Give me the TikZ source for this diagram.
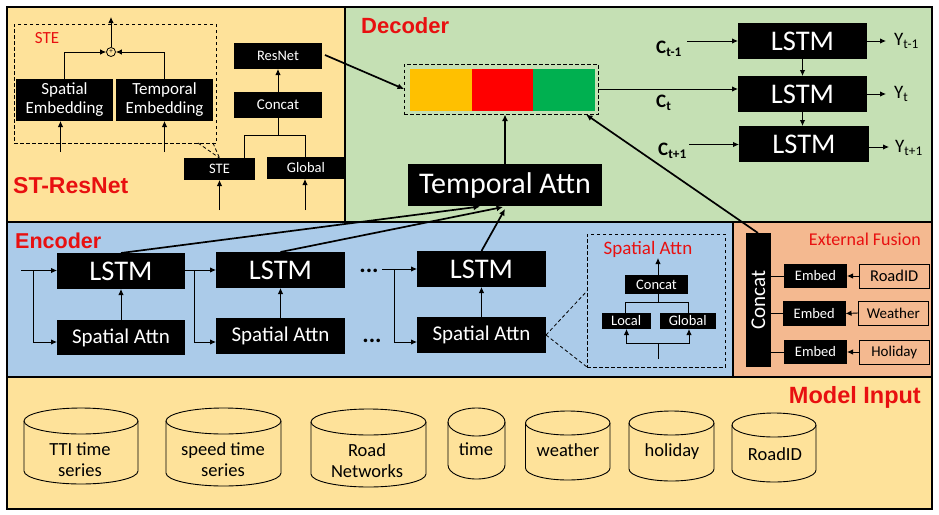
\documentclass[tikz,border=0pt]{standalone}
\usepackage{fontspec}
\setmainfont{Carlito}
\newfontfamily\titlefont{Liberation Sans}
\usetikzlibrary{arrows.meta,calc}
\definecolor{panelY}{HTML}{FEE29A}
\definecolor{panelG}{HTML}{C5E0B4}
\definecolor{panelB}{HTML}{ABCBE9}
\definecolor{panelO}{HTML}{F4B990}
\definecolor{titleR}{HTML}{E81010}
\definecolor{mixA}{HTML}{FFC000}
\definecolor{mixC}{HTML}{00B050}
\newcommand\fs[1]{\fontsize{#1}{21}\selectfont}
\newcommand\mybox[7]{\node[#6,minimum width={(#4-#2)*1pt},minimum height={(#5-#3)*1pt}] (#1) at ({(#2+#4)/2},{(#3+#5)/2}) {#7};}
\newcommand\mycyl[8]{%
  \draw[cylline] (#2,#3+#6) arc[start angle=180,end angle=-180,x radius={(#4-#2)/2},y radius=#6];
  \draw[cylline] (#2,#3+#6) -- (#2,#5-#6) arc[start angle=180,end angle=0,x radius={(#4-#2)/2},y radius=#6] -- (#4,#3+#6);
  \node[cyltext] (#1) at (#7) {#8};}
\tikzset{
  x=1pt,y=-1pt,
  panel/.style={draw=black,line width=1.2pt},
  blk/.style={fill=black,text=white,inner sep=0pt,outer sep=0pt,align=center},
  big/.style={blk,font=\fs{28.5}},
  mid/.style={blk,font=\fs{21}},
  sm/.style={blk,font=\fs{14.5}},
  tiny/.style={blk,font=\fs{14.5}},
  ext/.style={draw=black,line width=.7pt,fill=panelO,inner sep=0pt,outer sep=0pt,font=\fs{15}},
  arr/.style={-{Latex[length=6pt,width=5.5pt]},line width=.9pt},
  thk/.style={-{Latex[length=6.5pt,width=6pt]},line width=1.7pt},
  lin/.style={line width=.9pt},
  dsh/.style={dash pattern=on 3.5pt off 2.5pt,line width=.8pt},
  ttl/.style={text=titleR,inner sep=0pt},
  lab/.style={font=\fs{17},text=titleR,inner sep=0pt},
  cylline/.style={line width=.9pt},
  cyltext/.style={font=\fs{18.5},align=center,inner sep=0pt},
  clab/.style={font=\fs{19},inner sep=0pt,anchor=west},
}
\begin{document}
\begin{tikzpicture}
\useasboundingbox (0,0) rectangle (939,514);
% panels
\fill[white] (0,0) rectangle (939,514);
\draw[panel,fill=panelY] (7,7) rectangle (345,222);
\draw[panel,fill=panelG] (345,7) rectangle (932,222);
\draw[panel,fill=panelB] (7,222) rectangle (733,377);
\draw[panel,fill=panelO] (733,222) rectangle (932,377);
\draw[panel,fill=panelY] (7,377) rectangle (932,509);
\node[ttl,anchor=west,font=\titlefont\bfseries\fs{23}] (tResNet) at (13,186) {ST-ResNet};
\node[ttl,anchor=west,font=\titlefont\bfseries\fs{22}] (tDec) at (361,26) {Decoder};
\node[ttl,anchor=west,font=\titlefont\bfseries\fs{21.5}] (tEnc) at (15,241) {Encoder};
\node[ttl,anchor=east,font=\titlefont\bfseries\fs{23.5}] (tInp) at (921,397) {Model Input};
% ST-ResNet
\mybox{ste}{14}{24}{216}{143}{draw=black,dsh,inner sep=0pt,outer sep=0pt}{}
\node[lab] (lSte) at (47,38) {STE};
\mybox{spe}{16}{79}{113}{121}{blk,font=\fontsize{17}{19}\selectfont}{Spatial\\Embedding}
\mybox{tpe}{116}{79}{213}{121}{blk,font=\fontsize{17}{19}\selectfont}{Temporal\\Embedding}
\node[circle,draw=black,line width=.8pt,fill=panelY,minimum size=9pt,inner sep=0pt,font=\fontsize{7}{7}\selectfont] (plus) at (111,52) {+};
\coordinate (stOut) at (111,17);
\coordinate (speIn) at (60.5,152);
\coordinate (tpeIn) at (164.5,152);
\draw[arr] (plus) -- (stOut);
\draw[arr] (spe.north) |- (plus.west);
\draw[arr] (tpe.north) |- (plus.east);
\draw[arr] (speIn) -- (speIn |- spe.south);
\draw[arr] (tpeIn) -- (tpeIn |- tpe.south);
\mybox{resnet}{234}{43}{322}{69}{sm}{ResNet}
\mybox{concatA}{234}{92}{322}{118}{blk,font=\fs{15}}{Concat}
\mybox{steB}{184}{158}{255}{180}{tiny}{STE}
\mybox{globA}{267}{157}{345}{179}{tiny}{Global}
\coordinate (cjA) at (244,135);
\coordinate (cjB) at (305,135);
\coordinate (steIn) at (219.5,210);
\coordinate (glIn) at (305,210);
\coordinate (dsA) at (198,143);
\coordinate (dsB) at (213,143);
\draw[arr] (concatA.north) -- (resnet.south);
\draw[lin] (concatA.south) -- (concatA.south |- cjA);
\draw[lin] (cjA |- steB.north) -- (cjA) -- (cjB) -- (cjB |- globA.north);
\draw[arr] (steIn) -- (steIn |- steB.south);
\draw[arr] (glIn) -- (glIn |- globA.south);
\draw[dsh] (dsA) -- (steB.north);
\draw[dsh] (dsB) -- (steB.north);
% Decoder
\mybox{mix}{404}{64}{598}{114.5}{draw=black,dsh,inner sep=0pt,outer sep=0pt}{}
\fill[mixA] (410,69) rectangle (472,111);
\fill[red] (472,69) rectangle (533,111);
\fill[mixC] (533,69) rectangle (595,111);
\mybox{tattn}{408}{164}{602}{206}{blk,font=\fs{30}}{Temporal Attn}
\mybox{dA}{738}{23}{867}{59}{big}{LSTM}
\mybox{dB}{738}{76}{867}{112}{big}{LSTM}
\mybox{dC}{739}{126}{869}{162}{big}{LSTM}
\coordinate (cA) at (687,41);
\coordinate (cC) at (689,144.5);
\coordinate (yA) at (886,41);
\coordinate (yB) at (886,94);
\coordinate (yC) at (889,147);
\node[clab] (lcA) at (656,49) {\textbf{C}\textsubscript{\textbf{t-1}}};
\node[clab] (lcB) at (656,103) {\textbf{C}\textsubscript{\textbf{t}}};
\node[clab] (lcC) at (658,151) {\textbf{C}\textsubscript{\textbf{t+1}}};
\node[clab] (lyA) at (894,41) {Y\textsubscript{t-1}};
\node[clab] (lyB) at (894,94) {Y\textsubscript{t}};
\node[clab] (lyC) at (895,148) {Y\textsubscript{t+1}};
\draw[arr] (cA) -- (cA -| dA.west);
\draw[arr] (cC) -- (cC -| dC.west);
\coordinate (mixOut) at (598,89);
\draw[arr] (mixOut) -- (mixOut -| dB.west);
\draw[arr] (yA -| dA.east) -- (yA);
\draw[arr] (yB -| dB.east) -- (yB);
\draw[arr] (yC -| dC.east) -- (yC);
\draw[arr] (dA.south) -- (dB.north);
\draw[arr] (dB.south) -- (dB.south |- dC.north);
\coordinate (tIn) at (505,164);
\draw[thk] (tIn) -- (tIn |- mix.south);
% Encoder
\mybox{eA}{57}{253}{185}{289}{big}{LSTM}
\mybox{sA}{57}{320}{185}{355}{mid}{Spatial Attn}
\mybox{eB}{216}{252}{345}{288}{big}{LSTM}
\mybox{sB}{216}{318}{345}{354}{mid}{Spatial Attn}
\mybox{eC}{417}{251}{546}{287}{big}{LSTM}
\mybox{sC}{417}{317}{546}{353}{mid}{Spatial Attn}
\node[font=\bfseries\fs{24},inner sep=0pt] (dotsA) at (369,271) {...};
\node[font=\bfseries\fs{24},inner sep=0pt] (dotsB) at (372,341) {...};
\coordinate (in0) at (21,270.5);
\coordinate (brA) at (33.5,270.5);
\coordinate (brAb) at (33.5,342);
\coordinate (brB) at (194.5,270);
\coordinate (brBb) at (194.5,342);
\coordinate (in2) at (382,269);
\coordinate (brC) at (394,269);
\coordinate (brCb) at (394,342);
\draw[arr] (in0) -- (in0 -| eA.west);
\draw[arr] (brA) -- (brAb) -- (brAb -| sA.west);
\draw[arr] (brB -| eA.east) -- (brB -| eB.west);
\draw[arr] (brB) -- (brBb) -- (brBb -| sB.west);
\draw[arr] (in2) -- (in2 -| eC.west);
\draw[arr] (brC) -- (brCb) -- (brCb -| sC.west);
\draw[arr] (sA.north) -- (eA.south);
\draw[arr] (sB.north) -- (eB.south);
\draw[arr] (sC.north) -- (eC.south);
\coordinate (tgA) at (480,206.5);
\coordinate (tgB) at (503,207);
\coordinate (tgC) at (505,209);
\draw[thk] (eA.north) -- (tgA);
\draw[thk] (eB.north) -- (tgB);
\draw[thk] (eC.north) -- (tgC);
% Spatial attention detail
\mybox{sdet}{587}{234}{725}{367}{draw=black,dsh,inner sep=0pt,outer sep=0pt}{}
\node[lab,font=\fs{19}] (lSdet) at (648,249) {Spatial Attn};
\mybox{cS}{625}{275}{688}{294}{tiny}{Concat}
\mybox{loc}{601.5}{313}{651}{329}{tiny}{Local}
\mybox{glo}{659.5}{313}{716}{329}{tiny}{Global}
\coordinate (sdOut) at (658,258);
\coordinate (sdJ) at (658,302);
\coordinate (sdL) at (625,302);
\coordinate (sdR) at (688,302);
\coordinate (sdIn) at (658,359);
\coordinate (sdK) at (658,343);
\coordinate (sdM) at (626.5,343);
\coordinate (sdN) at (689,343);
\draw[arr] (sdOut |- cS.north) -- (sdOut);
\draw[lin] (sdOut |- cS.south) -- (sdJ);
\draw[lin] (sdL |- loc.north) -- (sdL) -- (sdR) -- (sdR |- glo.north);
\draw[lin] (sdIn) -- (sdK);
\draw[arr] (sdK) -- (sdM) -- (sdM |- loc.south);
\draw[arr] (sdK) -- (sdN) -- (sdN |- glo.south);
\coordinate (cnA) at (587,291);
\coordinate (cnB) at (587,367);
\draw[dsh] (sC.east) -- (cnA);
\draw[dsh] (sC.east) -- (cnB);
% External fusion
\mybox{cE}{746}{233}{771}{367}{blk}{}
\node[rotate=90,text=white,font=\fs{21},inner sep=0pt] (cEt) at (cE.center) {Concat};
\node[lab,anchor=east,font=\fs{18}] (lExt) at (921,239) {External Fusion};
\mybox{emA}{784}{264}{847}{288}{sm}{Embed}
\mybox{emB}{783}{301}{845.5}{326}{sm}{Embed}
\mybox{emC}{784}{340}{847}{364}{sm}{Embed}
\mybox{rid}{859}{264}{929.5}{288}{ext,font=\fs{16.5}}{RoadID}
\mybox{wea}{858}{301}{928.5}{325}{ext}{Weather}
\mybox{hol}{859}{340}{929.5}{364}{ext}{Holiday}
\draw[arr] (rid.west) -- (emA.east);
\draw[arr] (wea.west) -- (emB.east);
\draw[arr] (hol.west) -- (emC.east);
\draw[lin] (emA.west) -- (emA.west -| cE.east);
\draw[lin] (emB.west) -- (emB.west -| cE.east);
\draw[lin] (emC.west) -- (emC.west -| cE.east);
\coordinate (cEtop) at (758,233);
\coordinate (mixIn) at (586,114.5);
\draw[thk] (cEtop) -- (mixIn);
\coordinate (rnOut) at (325,55);
\coordinate (mixW) at (404,89);
\draw[thk] (rnOut) -- (mixW);
% Model input
\mycyl{cyA}{24}{408}{138}{484}{13}{80,460}{TTI time\\series}
\mycyl{cyB}{166}{408}{281}{486}{13}{223,460}{speed time\\series}
\mycyl{cyC}{311}{409}{426}{487}{13}{367,461}{Road\\Networks}
\mycyl{cyD}{448}{408}{505}{479}{14}{476,449}{time}
\mycyl{cyE}{525.5}{411}{610}{480}{12}{568,450}{weather}
\mycyl{cyF}{629}{411}{714}{481}{12}{672,452}{holiday}
\mycyl{cyG}{732}{413}{816}{482}{12}{775,454}{RoadID}
\end{tikzpicture}
\end{document}
